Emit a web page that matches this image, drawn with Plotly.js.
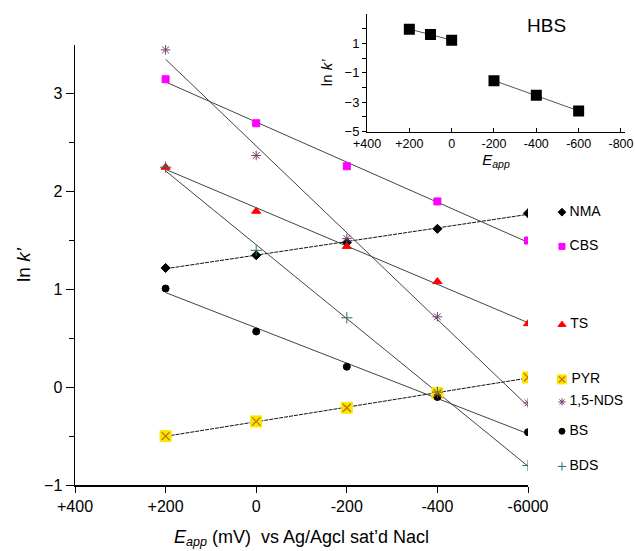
<!DOCTYPE html>
<html>
<head>
<meta charset="utf-8">
<script src="https://cdn.plot.ly/plotly-3.0.1.min.js"></script>
<style>html,body{margin:0;padding:0;background:#fff;}#chart{width:635px;height:551px;}</style>
</head>
<body>
<div id="chart"></div>
<script>
// ---- data ----
var eApp = [200, 0, -200, -400, -600];
var xTickVals = [400, 200, 0, -200, -400, -600];
var xTickText = ['+400', '+200', '0', '-200', '-400', '-6000'];
var NMA = [1.22, 1.35, 1.48, 1.62, 1.78];
var CBS = [3.15, 2.70, 2.26, 1.90, 1.50];
var TS = [2.25, 1.80, 1.44, 1.08, 0.65];
var PYR = [-0.50, -0.35, -0.21, -0.06, 0.10];
var NDS = [3.45, 2.37, 1.52, 0.72, -0.16];
var BS = [1.01, 0.57, 0.21, -0.10, -0.46];
var BDS = [2.25, 1.40, 0.71, -0.05, -0.80];
var legendNames = ['NMA', 'CBS', 'TS', 'PYR', '1,5-NDS', 'BS', 'BDS'];
var legendY = [1.79, 1.44, 0.64, 0.08, -0.15, -0.45, -0.81];
var legendX = -675;
// inset (HBS)
var hbsE1 = [200, 100, 0];
var hbsK1 = [1.97, 1.61, 1.22];
var hbsE2 = [-200, -400, -600];
var hbsK2 = [-1.54, -2.52, -3.60];
var insetTickVals = [400, 200, 0, -200, -400, -600, -800];
var insetTickText = ['+400', '+200', '0', '-200', '-400', '-600', '-800'];

function fit(xs, ys) {
  var n = xs.length, sx = 0, sy = 0, sxx = 0, sxy = 0;
  for (var i = 0; i < n; i++) { sx += xs[i]; sy += ys[i]; sxx += xs[i]*xs[i]; sxy += xs[i]*ys[i]; }
  var b = (n*sxy - sx*sy) / (n*sxx - sx*sx);
  var a = (sy - b*sx) / n;
  var x0 = Math.max.apply(null, xs), x1 = Math.min.apply(null, xs);
  return {x: [x0, x1], y: [a + b*x0, a + b*x1]};
}

var series = [
  {y: NMA, sym: 'diamond', size: 7, ls: 6, color: '#000', dash: '4px,1px', lc: '#111'},
  {y: CBS, sym: 'square', size: 7, ls: 6, color: '#ff00ff', dash: 'solid', lc: '#444'},
  {y: TS, sym: 'triangle-up', size: 8, ls: 7, color: '#ff0000', dash: 'solid', lc: '#444'},
  {y: PYR, sym: 'square', size: 11, ls: 9, color: '#f5e800', dash: '4px,1px', lc: '#111'},
  {y: NDS, sym: 'asterisk-open', size: 8, ls: 6, color: '#7a3e70', dash: 'solid', lc: '#444'},
  {y: BS, sym: 'circle', size: 7, ls: 6, color: '#000', dash: 'solid', lc: '#444'},
  {y: BDS, sym: 'cross-thin-open', size: 8, ls: 6, color: '#2a6a6a', dash: 'solid', lc: '#444'}
];

var traces = [];
series.forEach(function (s) {
  var f = fit(eApp, s.y);
  traces.push({x: f.x, y: f.y, mode: 'lines', type: 'scatter', xaxis: 'x', yaxis: 'y',
    line: {color: s.lc, width: 1, dash: s.dash}, hoverinfo: 'skip', showlegend: false});
});
series.forEach(function (s) {
  traces.push({x: eApp, y: s.y, mode: 'markers', type: 'scatter', xaxis: 'x', yaxis: 'y',
    marker: {symbol: s.sym, size: s.size, color: s.color, line: {color: s.color, width: 1}},
    showlegend: false});
});
// PYR overlay x
traces.push({x: eApp, y: PYR, mode: 'markers', type: 'scatter', xaxis: 'x', yaxis: 'y',
  marker: {symbol: 'x-thin-open', size: 8, color: '#d06000', line: {color: '#d06000', width: 1.2}}, showlegend: false});

// manual legend (on a full-width overlay subplot with the same scales)
series.forEach(function (s, i) {
  traces.push({x: [legendX], y: [legendY[i]], mode: 'markers+text', type: 'scatter', xaxis: 'x3', yaxis: 'y3',
    text: ['\u2009' + legendNames[i]], textposition: 'middle right',
    textfont: {family: 'Liberation Sans, Arial, sans-serif', size: 14, color: '#000'},
    marker: {symbol: s.sym, size: s.ls, color: s.color, line: {color: s.color, width: 1}},
    showlegend: false});
});
traces.push({x: [legendX], y: [legendY[3]], mode: 'markers', type: 'scatter', xaxis: 'x3', yaxis: 'y3',
  marker: {symbol: 'x-thin-open', size: 6, color: '#d06000', line: {color: '#d06000', width: 1.2}}, showlegend: false});

// inset
[[hbsE1, hbsK1], [hbsE2, hbsK2]].forEach(function (p) {
  var f = fit(p[0], p[1]);
  traces.push({x: f.x, y: f.y, mode: 'lines', type: 'scatter', xaxis: 'x2', yaxis: 'y2',
    line: {color: '#555', width: 1}, showlegend: false});
  traces.push({x: p[0], y: p[1], mode: 'markers', type: 'scatter', xaxis: 'x2', yaxis: 'y2',
    marker: {symbol: 'square', size: 11, color: '#000'}, showlegend: false});
});

var font = 'Liberation Sans, Arial, sans-serif';
var mainFrac = 453/550;
var layout = {
  width: 635, height: 551,
  margin: {l: 75, r: 10, t: 10, b: 66},
  paper_bgcolor: '#fff', plot_bgcolor: 'rgba(0,0,0,0)',
  font: {family: font, color: '#000'},
  showlegend: false,
  xaxis: {domain: [0, mainFrac], range: [400, -600], autorange: false,
    tickvals: xTickVals, ticktext: xTickText, ticks: 'outside', ticklen: 6, tickcolor: '#000',
    showline: true, linecolor: '#000', linewidth: 1.5, showgrid: false, zeroline: false,
    tickfont: {size: 16, family: font}, anchor: 'y',
    title: {text: '<i>E<sub>app</sub></i> (mV)  vs Ag/Agcl sat\u2019d Nacl', font: {size: 18, family: font}, standoff: 16}},
  yaxis: {domain: [0, 440/475], range: [-1, 3.5], autorange: false,
    tickvals: [-1, 0, 1, 2, 3], ticks: 'outside', ticklen: 8, tickcolor: '#000',
    minor: {tickvals: [-0.5, 0.5, 1.5, 2.5], ticks: 'outside', ticklen: 5, tickcolor: '#000'},
    showline: true, linecolor: '#000', linewidth: 1.5, showgrid: false, zeroline: false,
    tickfont: {size: 16, family: font}, anchor: 'x',
    title: {text: 'ln <i>k\u2019</i>', font: {size: 19, family: font}, standoff: 8}},
  xaxis3: {domain: [0, 1], range: [400, 400 - 1000/mainFrac], autorange: false, visible: false, anchor: 'y3'},
  yaxis3: {domain: [0, 440/475], range: [-1, 3.5], autorange: false, visible: false, anchor: 'x3'},
  xaxis2: {domain: [292/550, 1], range: [400, -819], autorange: false,
    tickvals: insetTickVals, ticktext: insetTickText, ticks: 'inside', ticklen: 4, tickcolor: '#000',
    ticklabeloverflow: 'allow',
    showline: true, linecolor: '#000', linewidth: 1, showgrid: false, zeroline: false,
    tickfont: {size: 12.5, family: font}, anchor: 'y2',
    title: {text: '<i>E<sub>app</sub></i>', font: {size: 15, family: font}, standoff: 4}},
  yaxis2: {domain: [353.3/475, 471/475], range: [-5, 3], autorange: false,
    tickvals: [-5, -3, -1, 1], ticks: 'outside', ticklen: 4, tickcolor: '#000',
    minor: {tickvals: [-4, -2, 0, 2], ticks: 'outside', ticklen: 4, tickcolor: '#000'},
    showline: true, linecolor: '#000', linewidth: 1, showgrid: false, zeroline: false,
    tickfont: {size: 13, family: font}, anchor: 'x2',
    title: {text: 'ln <i>k\u2019</i>', font: {size: 15, family: font}, standoff: 8}},
  annotations: [{x: -450, y: 2.2, xref: 'x2', yref: 'y2', text: 'HBS', showarrow: false,
    font: {size: 19, family: font, color: '#000'}}]
};

Plotly.newPlot('chart', traces, layout, {displayModeBar: false, staticPlot: true});
</script>
</body>
</html>
